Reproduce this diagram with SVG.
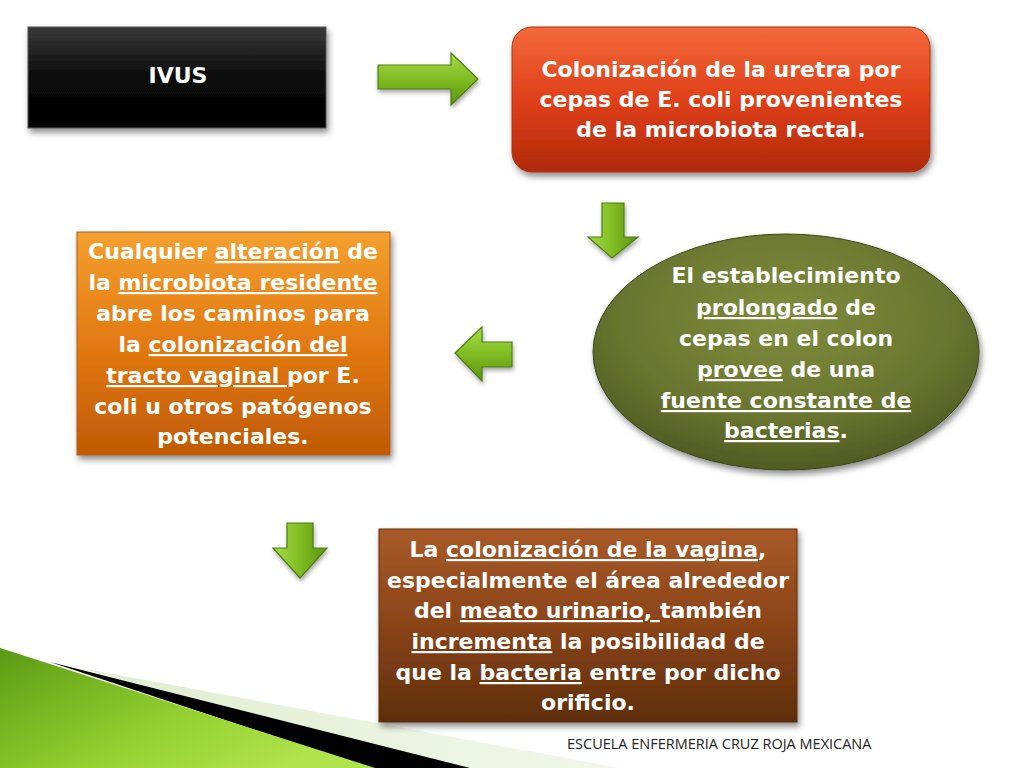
<svg xmlns="http://www.w3.org/2000/svg" width="1024" height="768" viewBox="0 0 1024 768">
<defs>
<linearGradient id="gBlack" x1="0" y1="0" x2="0" y2="1"><stop offset="0" stop-color="#3a3a3a"/><stop offset="0.5" stop-color="#0a0a0a"/><stop offset="1" stop-color="#000"/></linearGradient>
<linearGradient id="gRed" x1="0" y1="0" x2="0" y2="1"><stop offset="0" stop-color="#f26a3a"/><stop offset="0.5" stop-color="#e0401a"/><stop offset="1" stop-color="#b02a0a"/></linearGradient>
<radialGradient id="gOlive" cx="0.5" cy="0.35" r="0.7"><stop offset="0" stop-color="#7f8c3c"/><stop offset="0.6" stop-color="#6a7630"/><stop offset="1" stop-color="#4a5420"/></radialGradient>
<linearGradient id="gOrange" x1="0" y1="0" x2="0" y2="1"><stop offset="0" stop-color="#f4a030"/><stop offset="0.5" stop-color="#e27a12"/><stop offset="1" stop-color="#c05a04"/></linearGradient>
<linearGradient id="gBrown" x1="0" y1="0" x2="0" y2="1"><stop offset="0" stop-color="#a85a28"/><stop offset="0.5" stop-color="#8a4418"/><stop offset="1" stop-color="#5e2e0c"/></linearGradient>
<linearGradient id="gArrow" x1="0" y1="0" x2="0" y2="1"><stop offset="0" stop-color="#a6dc4a"/><stop offset="0.5" stop-color="#80bc22"/><stop offset="1" stop-color="#5c9410"/></linearGradient>
<linearGradient id="gArrowV" x1="0" y1="0" x2="1" y2="0"><stop offset="0" stop-color="#a6dc4a"/><stop offset="0.5" stop-color="#80bc22"/><stop offset="1" stop-color="#5c9410"/></linearGradient>
<linearGradient id="gGreen" x1="0" y1="0" x2="1" y2="0.6"><stop offset="0" stop-color="#5a9a14"/><stop offset="0.6" stop-color="#94d030"/><stop offset="1" stop-color="#b0e44c"/></linearGradient>
<linearGradient id="gLight" x1="0" y1="0" x2="1" y2="0"><stop offset="0" stop-color="#dcebc8" stop-opacity="0.9"/><stop offset="1" stop-color="#e8f2dc" stop-opacity="0.6"/></linearGradient>
<filter id="sh" x="-10%" y="-10%" width="125%" height="130%"><feDropShadow dx="2" dy="4" stdDeviation="3" flood-color="#000" flood-opacity="0.45"/></filter>
<filter id="ash" x="-20%" y="-20%" width="150%" height="150%"><feDropShadow dx="1" dy="3" stdDeviation="2" flood-color="#000" flood-opacity="0.35"/></filter>
</defs>
<style>
.t{font-family:"DejaVu Sans","Verdana",sans-serif;font-size:22px;font-weight:bold;fill:#fff;text-anchor:middle}
.u{text-decoration:underline}
.arrow{fill:url(#gArrow);stroke:#4c7e0e;stroke-width:1.2;filter:url(#ash)}
.arrowv{fill:url(#gArrowV);stroke:#4c7e0e;stroke-width:1.2;filter:url(#ash)}
.foot{font-family:"Open Sans","DejaVu Sans",sans-serif;font-size:14.5px;fill:#222}
</style>
<rect width="1024" height="768" fill="#fff"/>
<g id="decor">
<polygon points="80,668 620,768 450,768" fill="url(#gLight)"/>
<polygon points="50,662 470,768 370,768" fill="#000"/>
<polygon points="0,648 375,768 0,768" fill="url(#gGreen)"/>
</g>
<g id="node-ivus">
<rect x="28" y="27" width="298" height="101" fill="url(#gBlack)" stroke="#555" stroke-width="1" filter="url(#sh)"/>
<text class="t" x="178" y="83">IVUS</text>
</g>
<g id="node-colonizacion-uretra">
<rect x="512" y="27" width="418" height="145" rx="20" fill="url(#gRed)" stroke="#b03010" stroke-width="1" filter="url(#sh)"/>
<text class="t" x="721" y="77">Colonización de la uretra por</text>
<text class="t" x="721" y="107">cepas de E. coli provenientes</text>
<text class="t" x="721" y="137">de la microbiota rectal.</text>
</g>
<g id="node-establecimiento">
<ellipse cx="786" cy="352" rx="193" ry="118" fill="url(#gOlive)" stroke="#3e4818" stroke-width="1" filter="url(#sh)"/>
<text class="t" x="786" y="283">El establecimiento</text>
<text class="t" x="786" y="315"><tspan class="u">prolongado</tspan> de</text>
<text class="t" x="786" y="346">cepas en el colon</text>
<text class="t" x="786" y="377"><tspan class="u">provee</tspan> de una</text>
<text class="t" x="786" y="408"><tspan class="u">fuente constante de</tspan></text>
<text class="t" x="786" y="438"><tspan class="u">bacterias</tspan>.</text>
</g>
<g id="node-alteracion">
<rect x="77" y="232" width="313" height="223" fill="url(#gOrange)" stroke="#b05a10" stroke-width="1" filter="url(#sh)"/>
<text class="t" x="233" y="259">Cualquier <tspan class="u">alteración</tspan> de</text>
<text class="t" x="233" y="290">la <tspan class="u">microbiota residente</tspan></text>
<text class="t" x="233" y="321">abre los caminos para</text>
<text class="t" x="233" y="352">la <tspan class="u">colonización del</tspan></text>
<text class="t" x="233" y="383"><tspan class="u">tracto vaginal </tspan>por E.</text>
<text class="t" x="233" y="414">coli u otros patógenos</text>
<text class="t" x="233" y="444">potenciales.</text>
</g>
<g id="node-vagina">
<rect x="379" y="529" width="418" height="193" fill="url(#gBrown)" stroke="#5a2e0c" stroke-width="1" filter="url(#sh)"/>
<text class="t" x="588" y="557">La <tspan class="u">colonización de la vagina</tspan>,</text>
<text class="t" x="588" y="588">especialmente el área alrededor</text>
<text class="t" x="588" y="618">del <tspan class="u">meato urinario, </tspan>también</text>
<text class="t" x="588" y="649"><tspan class="u">incrementa</tspan> la posibilidad de</text>
<text class="t" x="588" y="680">que la <tspan class="u">bacteria</tspan> entre por dicho</text>
<text class="t" x="588" y="710">orificio.</text>
</g>
<g id="connectors">
<polygon class="arrow" points="378,65 451,65 451,53 478,79 451,105 451,89 378,89"/>
<polygon class="arrowv" points="602,203 624,203 624,237 638,237 612,258 588,237 602,237"/>
<polygon class="arrow" points="512,342 482,342 482,327 455,353 482,381 482,367 512,367"/>
<polygon class="arrowv" points="287,523 313,523 313,548 327,548 300,578 273,548 287,548"/>
</g>
<g id="footer">
<text class="foot" x="567" y="749">ESCUELA ENFERMERIA CRUZ ROJA MEXICANA</text>
</g>
</svg>
